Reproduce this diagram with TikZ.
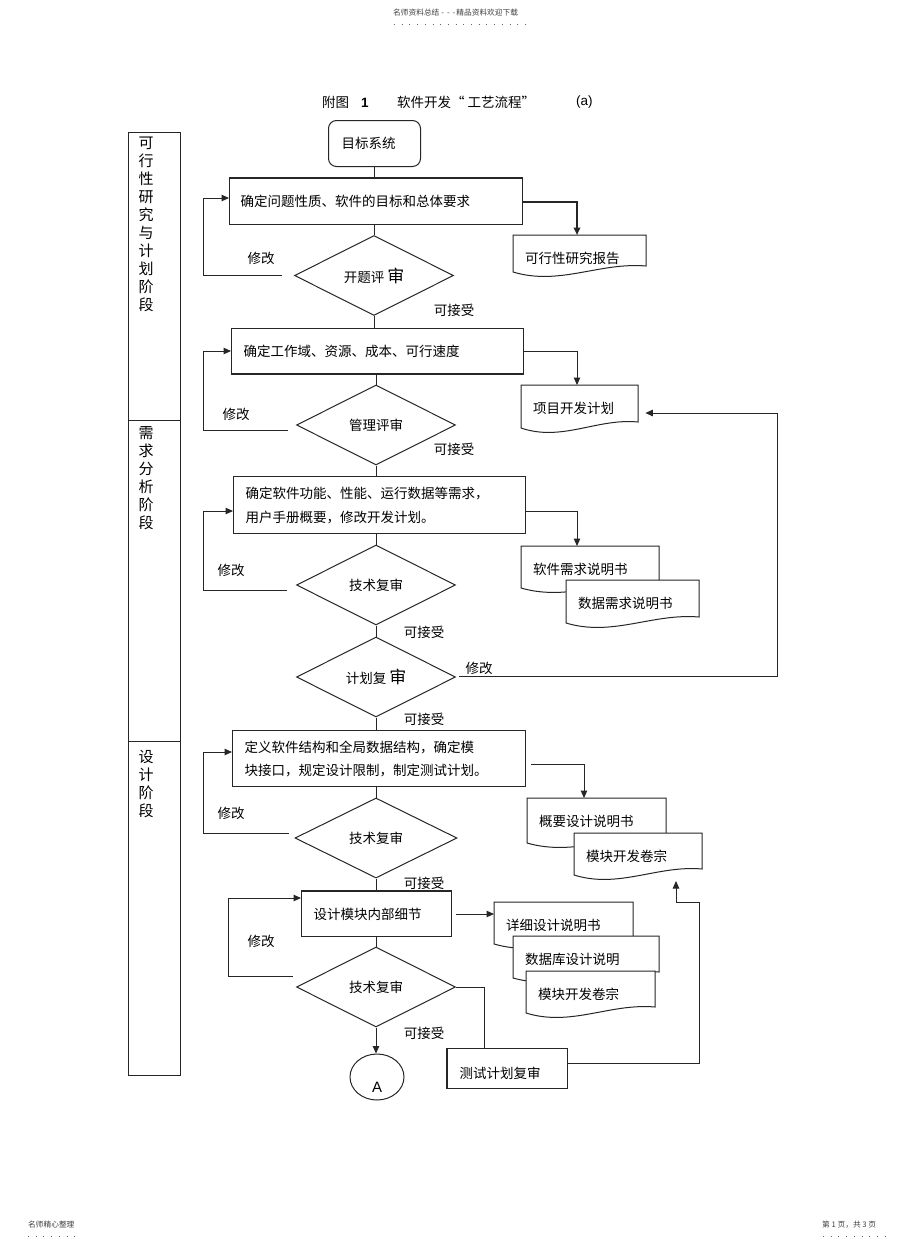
\documentclass[tikz,border=0pt]{standalone}
\usepackage{fontspec}
\setmainfont{Noto Sans CJK SC}
\newfontfamily\latf{Liberation Sans}
\usetikzlibrary{arrows.meta,calc,shapes.geometric}
\newcommand\docshape[7]{%
  \filldraw[docl] (#2,#3) -- ({#2+#4},#3) -- ({#2+#4},{#3+#5-6})
     .. controls ({#2+0.65*#4},{#3+#5-10}) and ({#2+0.35*#4},{#3+#5+14}) .. (#2,{#3+#5}) -- cycle;
  \node[doct, text width=#6pt] (#1) at (#2,#3) {#7};
}
\begin{document}
\begin{tikzpicture}[x=1pt,y=-1pt,
 ln/.style={line width=1pt, draw=black!85},
 arr/.style={ln, -{Triangle[length=7.5pt,width=6.5pt]}},
 txt/.style={font=\fontsize{13.5}{16}\selectfont, inner sep=0pt},
 box/.style={txt, ln, rectangle, anchor=north west, inner xsep=12pt, inner ysep=0pt, align=left},
 dia/.style={txt, ln, diamond, minimum width=159pt, minimum height=80pt},
 doct/.style={txt, anchor=north west, inner xsep=12pt, inner ysep=0pt, minimum height=47pt, align=left},
 docl/.style={ln, fill=white},
 colt/.style={font=\fontsize{15}{18}\selectfont, inner sep=0pt, align=center, anchor=north},
 small/.style={font=\fontsize{7.7}{9}\selectfont, text=black!75, inner sep=0pt, anchor=west},
 dots/.style={draw=black!60, line width=1pt, dash pattern=on 1pt off 6.7pt},
 thk/.style={line width=2.4pt, draw=black!85},
 ttl/.style={font=\fontsize{13.5}{16}\selectfont, inner sep=0pt, anchor=west},
]
\fill[white] (0,0) rectangle (920,1248);
\useasboundingbox (0,0) rectangle (920,1248);

% header / footer
\node[small] (h1) at (393,13) {名师资料总结\hspace{2pt}-\hspace{3pt}-\hspace{3pt}-\hspace{1pt}精品资料欢迎下载};
\draw[dots] (394,24) -- (528,24);
\node[small] (f1) at (28,1225) {名师精心整理};
\draw[dots] (28,1236) -- (76,1236);
\node[small] (f2) at (822,1225) {第 1 页，共 3 页};
\draw[dots] (823,1236) -- (892,1236);

% title
\node[ttl] (t1) at (322,102) {附图\hspace{12pt}{\latf\bfseries 1}};
\node[ttl] (t2) at (397,102) {软件开发“\hspace{3pt}工艺流程”};
\node[ttl] (t3) at (576,102) {\latf (a)};

% stage column
\node[ln, rectangle, anchor=north west, minimum width=52pt, minimum height=943pt, inner sep=0pt] (col) at (128,132) {};
\draw[ln] (col.west |- 0,420) -- (col.east |- 0,420);
\draw[ln] (col.west |- 0,741) -- (col.east |- 0,741);
\node[colt] (s1) at (146,136.5) {可\\行\\性\\研\\究\\与\\计\\划\\阶\\段};
\node[colt] (s2) at (146,426) {需\\求\\分\\析\\阶\\段};
\node[colt] (s3) at (146,750) {设\\计\\阶\\段};

% helper x positions
\coordinate (lx) at (203,0);
\coordinate (lx2) at (228,0);
\coordinate (rx) at (777,0);
\coordinate (rx2) at (699,902);

% main nodes
\node[box, rounded corners=8pt, minimum height=46pt, inner xsep=13pt, text width=66pt] (top) at (328,120) {目标系统};
\node[box, minimum height=46pt, inner xsep=11pt, text width=271pt] (b1) at (229,178) {确定问题性质、软件的目标和总体要求};
\draw[thk] (b1.north west) -- (b1.north east);
\node[dia] (d1) at (374,275.5) {开题评\hspace{3pt}{\fontsize{17}{17}\selectfont 审}};
\node[box, minimum height=45pt, text width=268pt] (b2) at (231,328) {确定工作域、资源、成本、可行速度};
\draw[thk] (b2.south west) -- (b2.south east);
\node[dia] (d2) at (376,425) {管理评审};
\node[box, minimum height=57pt, text width=268pt, font=\fontsize{13.5}{24}\selectfont] (b3) at (233,476) {确定软件功能、性能、运行数据等需求，\\用户手册概要，修改开发计划。};
\node[dia] (d3) at (376,585) {技术复审};
\node[dia] (d4) at (376,677) {计划复\hspace{3pt}{\fontsize{17}{17}\selectfont 审}};
\node[box, minimum height=56pt, text width=269pt, font=\fontsize{13.5}{23}\selectfont] (b4) at (232,730) {定义软件结构和全局数据结构，确定模\\块接口，规定设计限制，制定测试计划。};
\node[dia, minimum width=162pt] (d5) at (376,838) {技术复审};
\node[box, minimum height=45pt, text width=126pt] (b5) at (301,891) {设计模块内部细节};
\draw[thk] (b5.north west) -- (b5.north east);
\node[dia] (d6) at (376,987) {技术复审};
\node[ln, ellipse, minimum width=54pt, minimum height=46pt, inner sep=0pt, font=\latf\fontsize{15}{15}\selectfont, text height=30pt, text depth=0pt] (A) at (377,1077) {A};
\node[box, minimum height=40pt, text width=96pt, text height=20pt, text depth=0pt] (test) at (447,1048) {测试计划复审};
\draw[thk] (test.north west) -- (test.south west);

% documents
\docshape{rep}{513}{235}{133}{37}{109}{可行性研究报告}
\docshape{plan}{521}{385}{117}{43}{93}{项目开发计划}
\docshape{srs}{521}{546}{138}{42}{114}{软件需求说明书}
\docshape{drs}{566}{580}{133}{43}{109}{数据需求说明书}
\docshape{gy}{527}{798}{139}{45}{115}{概要设计说明书}
\docshape{mk1}{574}{833}{128}{42}{104}{模块开发卷宗}
\docshape{xx}{494}{902}{139}{42}{115}{详细设计说明书}
\docshape{db}{513}{936}{146}{42}{122}{数据库设计说明}
\docshape{mk2}{526}{971}{129}{42}{105}{模块开发卷宗}

% labels
\node[txt] (m1) at (261,258) {修改};
\node[txt] (m2) at (236,414) {修改};
\node[txt] (m3) at (231,570) {修改};
\node[txt] (m4) at (479,668) {修改};
\node[txt] (m5) at (231,813) {修改};
\node[txt] (m6) at (261,941) {修改};
\node[txt] (k1) at (454,310) {可接受};
\node[txt] (k2) at (454,449) {可接受};
\node[txt] (k3) at (424,632) {可接受};
\node[txt] (k4) at (424,719) {可接受};
\node[txt] (k5) at (424,883) {可接受};
\node[txt] (k6) at (424,1033) {可接受};

% vertical flow
\draw[ln] (top.south) -- (top.south |- b1.north);
\draw[ln] (b1.south -| d1.north) -- (d1.north);
\draw[ln] (d1.south) -- (d1.south |- b2.north);
\draw[ln] (b2.south -| d2.north) -- (d2.north);
\draw[ln] (d2.south) -- (d2.south |- b3.north);
\draw[ln] (b3.south -| d3.north) -- (d3.north);
\draw[ln] (d3.south) -- (d4.north);
\draw[ln] (d4.south) -- (d4.south |- b4.north);
\draw[ln] (b4.south -| d5.north) -- (d5.north);
\draw[ln] (d5.south) -- (d5.south |- b5.north);
\draw[ln] (b5.south -| d6.north) -- (d6.north);
\draw[arr] (d6.south) -- (d6.south |- A.north);

% outputs
\draw[arr, line width=2pt] (b1.east) -| ($(rep.north west)+(64,0)$);
\draw[arr] (b2.east) -| ($(plan.north west)+(56,0)$);
\draw[arr] ($(b3.north east)+(0,35)$) -| ($(srs.north west)+(56,0)$);
\draw[arr] ($(b4.north east)+(5,34)$) -| ($(gy.north west)+(57,0)$);
\draw[arr] ($(b5.east)+(4,0)$) -- (xx.west |- b5.east);

% revision loops
\draw[arr] ($(d1.west)+(-12,0)$) -- (d1.west -| lx) |- ($(b1.north west)+(0,20)$);
\draw[arr] ($(d2.west)+(-8,5)$) -- ($(d2.west -| lx)+(0,5)$) |- (b2.west);
\draw[arr] ($(d3.west)+(-9,5)$) -- ($(d3.west -| lx)+(0,5)$) |- ($(b3.north west)+(0,35)$);
\draw[arr] ($(d4.east)+(3,-1)$) -- ($(d4.east -| rx)+(0,-1)$) |- ($(plan.north east)+(7,28)$);
\draw[arr] ($(d5.west)+(-6,-5)$) -- ($(d5.west -| lx)+(0,-5)$) |- ($(b4.north west)+(0,22)$);
\draw[arr] ($(d6.west)+(-3,-11)$) -- ($(d6.west -| lx2)+(0,-11)$) |- ($(b5.north west)+(0,7)$);

% test plan review
\draw[ln] (d6.east) -| ($(test.north west)+(37,0)$);
\draw[arr] ($(test.north east)+(0,15)$) -| (rx2) -| ($(mk1.north west)+(102,48)$);
\end{tikzpicture}
\end{document}
